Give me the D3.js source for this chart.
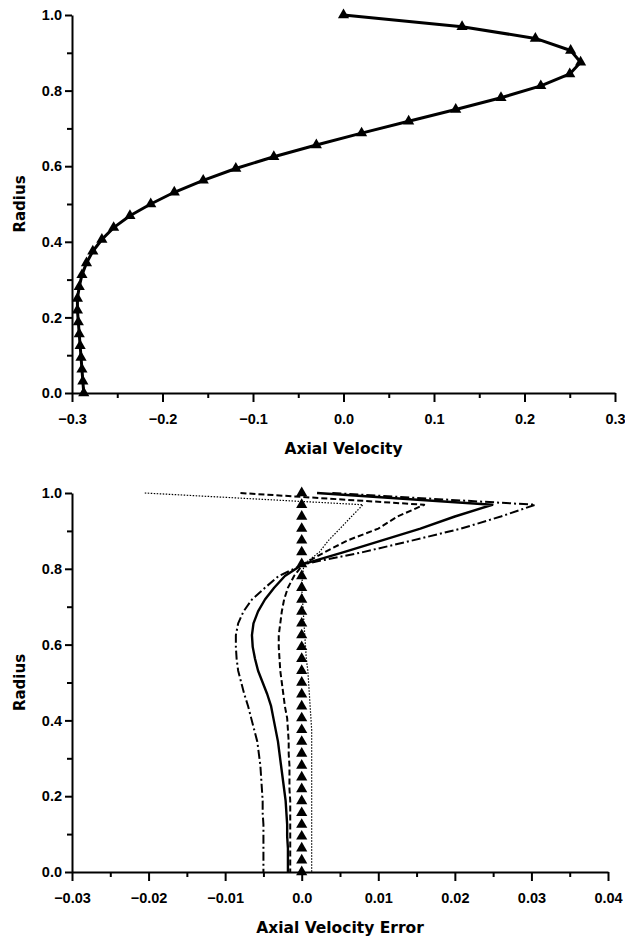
<!DOCTYPE html>
<html lang="en">

<head>
    <meta charset="UTF-8">
    <title>axial velocity profiles</title>
    <script src="https://d3js.org/d3.v7.min.js"></script>
    <style>
        body {
            margin: 0;
            background: #fff;
        }

        svg text {
            font-family: 'DejaVu Sans', sans-serif;
            font-weight: bold;
            fill: #000;
        }

        .axis path,
        .axis line {
            stroke: #000;
            stroke-width: 2px;
        }

        .axis text {
            font-family: 'Liberation Sans', Arial, sans-serif;
            font-size: 14.5px;
        }
    </style>
</head>

<body>
    <div id="chart"></div>

    <script>
        // radius stations (shared by both panels)
        const radii = [1.0, 0.969, 0.938, 0.906, 0.875, 0.844, 0.8125, 0.781, 0.75, 0.719, 0.6875, 0.656, 0.625,
            0.594, 0.5625, 0.531, 0.5, 0.469, 0.4375, 0.406, 0.375, 0.344, 0.3125, 0.281, 0.25, 0.219,
            0.1875, 0.156, 0.125, 0.094, 0.0625, 0.031, 0.0];

        // top panel: axial velocity
        const axialVelocity = [0.000, 0.131, 0.212, 0.251, 0.262, 0.250, 0.218, 0.174, 0.124, 0.072, 0.020, -0.030,
            -0.077, -0.119, -0.155, -0.187, -0.213, -0.236, -0.254, -0.267, -0.277, -0.284, -0.289, -0.292,
            -0.294, -0.294, -0.293, -0.292, -0.291, -0.290, -0.289, -0.288, -0.287];

        // bottom panel: axial velocity error, one list per curve
        const errDashDot = [0.004, 0.0305, 0.026, 0.0208, 0.0145, 0.008, 0.0003, -0.003, -0.0048, -0.0065, -0.0076,
            -0.0083, -0.0086, -0.0086, -0.0085, -0.0083, -0.0079, -0.0075, -0.0070, -0.0066, -0.0062, -0.0058,
            -0.0056, -0.0054, -0.0053, -0.0052, -0.0051, -0.0051, -0.0050, -0.0050, -0.0050, -0.0050, -0.0050];
        const errSolid = [0.002, 0.0249, 0.020, 0.0155, 0.0105, 0.0055, 0.0002, -0.0022, -0.0036, -0.0048, -0.0057,
            -0.0063, -0.0065, -0.0064, -0.0061, -0.0057, -0.0051, -0.0045, -0.0040, -0.0037, -0.0034, -0.0031,
            -0.0029, -0.0027, -0.0025, -0.0023, -0.0021, -0.0020, -0.0019, -0.0019, -0.0018, -0.0018, -0.0018];
        const errDashed = [-0.008, 0.016, 0.0125, 0.010, 0.006, 0.003, 0.0002, -0.001, -0.0018, -0.0023, -0.0026,
            -0.0028, -0.0030, -0.0030, -0.0029, -0.0028, -0.0026, -0.0024, -0.0022, -0.0019, -0.0018, -0.0017,
            -0.0017, -0.0016, -0.0016, -0.0016, -0.0015, -0.0015, -0.0015, -0.0015, -0.0015, -0.0015, -0.0015];
        const errDotted = [-0.0205, 0.008, 0.0065, 0.005, 0.0035, 0.0023, 0.0003, 0.0001, 0.0, 0.0001, 0.0002,
            0.0003, 0.0004, 0.0005, 0.0006, 0.0008, 0.0009, 0.0010, 0.0011, 0.0012, 0.0013, 0.0013, 0.0013,
            0.0013, 0.0013, 0.0013, 0.0013, 0.0013, 0.0013, 0.0013, 0.0013, 0.0013, 0.0013];
        const errTriangles = [0, 0, 0, 0, 0, 0, 0, 0, 0, 0, 0, 0, 0, 0, 0, 0, 0, 0, 0, 0, 0, 0, 0, 0, 0, 0, 0, 0, 0, 0, 0, 0, 0];

        // ticks
        const radiusTicks = [0.0, 0.2, 0.4, 0.6, 0.8, 1.0];
        const radiusLabels = ["0.0", "0.2", "0.4", "0.6", "0.8", "1.0"];
        const radiusMinor = [0.1, 0.3, 0.5, 0.7, 0.9];
        const velocityTicks = [-0.3, -0.2, -0.1, 0.0, 0.1, 0.2, 0.3];
        const velocityLabels = ["\u22120.3", "\u22120.2", "\u22120.1", "0.0", "0.1", "0.2", "0.3"];
        const velocityMinor = [-0.25, -0.15, -0.05, 0.05, 0.15, 0.25];
        const errorTicks = [-0.03, -0.02, -0.01, 0.0, 0.01, 0.02, 0.03, 0.04];
        const errorLabels = ["\u22120.03", "\u22120.02", "\u22120.01", "0.0", "0.01", "0.02", "0.03", "0.04"];
        const errorMinor = [-0.025, -0.015, -0.005, 0.005, 0.015, 0.025, 0.035];

        const W = 625, H = 940;

        const svg = d3.select("#chart").append("svg")
            .attr("width", W)
            .attr("height", H);

        // draws axes + labels for one panel, returns the group
        function panel(xDomain, xRange, yRange, xTicks, xLabels, xMinor, xTitle) {
            let x = d3.scaleLinear().domain(xDomain).range(xRange);
            let y = d3.scaleLinear().domain([0, 1]).range(yRange);
            let g = svg.append("g");

            // minor ticks first
            g.append("g")
                .attr("class", "axis")
                .attr("transform", "translate(0," + yRange[0] + ")")
                .call(d3.axisBottom(x).tickValues(xMinor).tickSize(5).tickFormat(""))
                .select(".domain").remove();
            g.append("g")
                .attr("class", "axis")
                .attr("transform", "translate(" + xRange[0] + ",0)")
                .call(d3.axisLeft(y).tickValues(radiusMinor).tickSize(5).tickFormat(""))
                .select(".domain").remove();

            g.append("g")
                .attr("class", "axis")
                .attr("transform", "translate(0," + yRange[0] + ")")
                .call(d3.axisBottom(x).tickValues(xTicks).tickSize(9).tickSizeOuter(0).tickPadding(12)
                    .tickFormat((d, i) => xLabels[i]));
            g.append("g")
                .attr("class", "axis")
                .attr("transform", "translate(" + xRange[0] + ",0)")
                .call(d3.axisLeft(y).tickValues(radiusTicks).tickSize(7).tickSizeOuter(0).tickPadding(3)
                    .tickFormat((d, i) => radiusLabels[i]));

            g.append("text")
                .attr("x", (xRange[0] + xRange[1]) / 2)
                .attr("y", yRange[0] + 61)
                .attr("text-anchor", "middle")
                .style("font-size", "15.5px")
                .text(xTitle);
            g.append("text")
                .attr("transform", "translate(25," + (yRange[0] + yRange[1]) / 2 + ") rotate(-90)")
                .attr("text-anchor", "middle")
                .style("font-size", "15px")
                .text("Radius");

            return { g: g, x: x, y: y };
        }

        function curve(p, values, width, dash) {
            let line = d3.line()
                .x((d, i) => p.x(values[i]))
                .y(d => p.y(d));
            p.g.append("path")
                .datum(radii)
                .attr("d", line)
                .attr("fill", "none")
                .attr("stroke", "#000")
                .attr("stroke-width", width)
                .attr("stroke-linejoin", "round")
                .attr("stroke-dasharray", dash);
        }

        function triangles(p, values) {
            let sym = d3.symbol().type(d3.symbolTriangle).size(54);
            p.g.selectAll(null)
                .data(radii)
                .enter().append("path")
                .attr("d", sym)
                .attr("transform", (d, i) => "translate(" + p.x(values[i]) + "," + p.y(d) + ")")
                .attr("fill", "#000");
        }

        // top panel
        let velPanel = panel([-0.3, 0.3], [72, 615], [393, 15], velocityTicks, velocityLabels, velocityMinor, "Axial Velocity");
        curve(velPanel, axialVelocity, 3, null);
        triangles(velPanel, axialVelocity);

        // bottom panel
        let errPanel = panel([-0.03, 0.04], [72, 608], [872, 493], errorTicks, errorLabels, errorMinor, "Axial Velocity Error");
        curve(errPanel, errDotted, 1.2, "1.5,1.5");
        curve(errPanel, errDashed, 2, "6,3");
        curve(errPanel, errDashDot, 2, "9,3,2,3");
        curve(errPanel, errSolid, 2.4, null);
        triangles(errPanel, errTriangles);
    </script>
</body>

</html>
